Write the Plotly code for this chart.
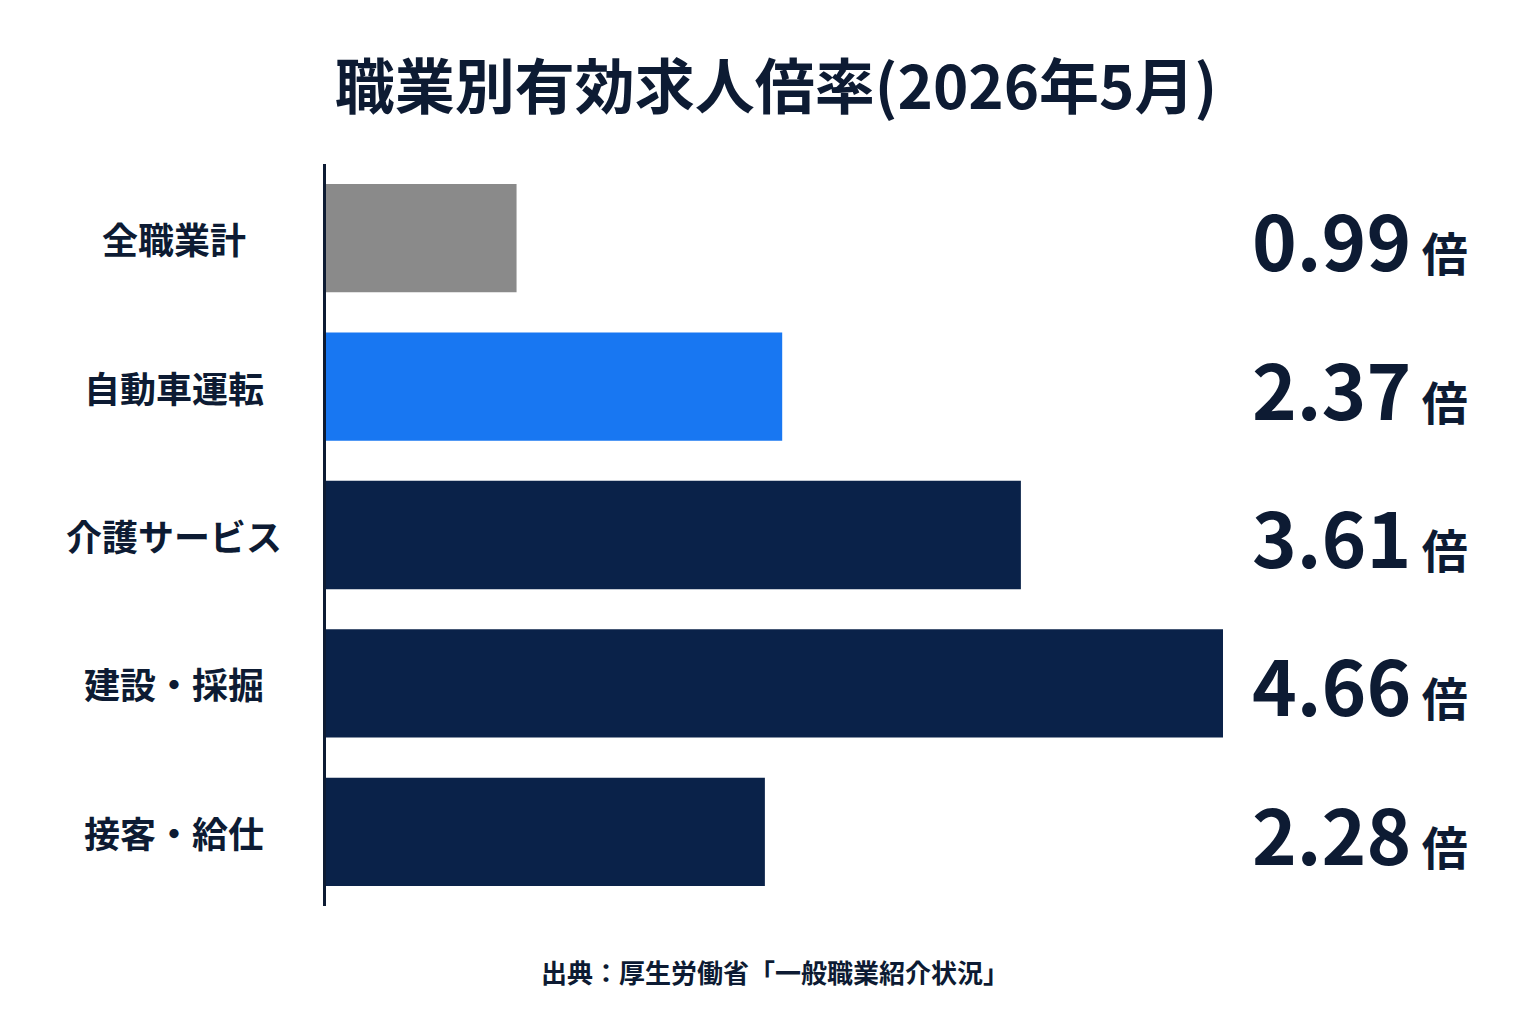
import plotly.graph_objects as go

categories = ["全職業計", "自動車運転", "介護サービス", "建設・採掘", "接客・給仕"]
values = [0.99, 2.37, 3.61, 4.66, 2.28]
colors = ["#8a8a8a", "#1877f2", "#0a2249", "#0a2249", "#0a2249"]
title = "職業別有効求人倍率(2026年5月)"
source = "出典：厚生労働省「一般職業紹介状況」"

FONT = "Noto Sans CJK JP"
TXT = "#0d1b33"

fig = go.Figure(go.Bar(
    x=values, y=categories, orientation="h",
    marker=dict(color=colors, line=dict(width=0)),
    hoverinfo="skip",
))

ann = []
for c, v in zip(categories, values):
    ann.append(dict(x=-0.17, xref="paper", y=c, yref="y", text=f"<b>{c}</b>",
                    showarrow=False, xanchor="center",
                    font=dict(family=FONT, size=36, color=TXT)))
    ann.append(dict(x=1.03, xref="paper", y=c, yref="y",
                    text=f"<b><span style='font-size:76px'>{v:.2f}</span><span style='font-size:46px'> 倍</span></b>",
                    showarrow=False, xanchor="left",
                    font=dict(family=FONT, size=46, color=TXT)))

H = 1024 - 156 - 126
fig.update_layout(
    width=1536, height=1024,
    paper_bgcolor="white", plot_bgcolor="white",
    margin=dict(l=318, r=321, t=156, b=126),
    bargap=0.27,
    showlegend=False,
    title=dict(text=f"<b>{title}</b>", x=0.5, xanchor="center", y=1 - 80/1024, yanchor="middle",
               font=dict(family=FONT, size=60, color=TXT)),
    xaxis=dict(range=[0, 4.66], visible=False, fixedrange=True),
    yaxis=dict(autorange="reversed", showticklabels=False, showgrid=False,
               showline=True, linecolor=TXT, linewidth=3, zeroline=False, ticks=""),
    annotations=ann + [dict(x=0.5, xref="paper", y=-(963-898)/H, yref="paper",
                            text=f"<b>{source}</b>", showarrow=False, yanchor="middle",
                            font=dict(family=FONT, size=26, color=TXT))],
)
fig.write_html("out.html")
